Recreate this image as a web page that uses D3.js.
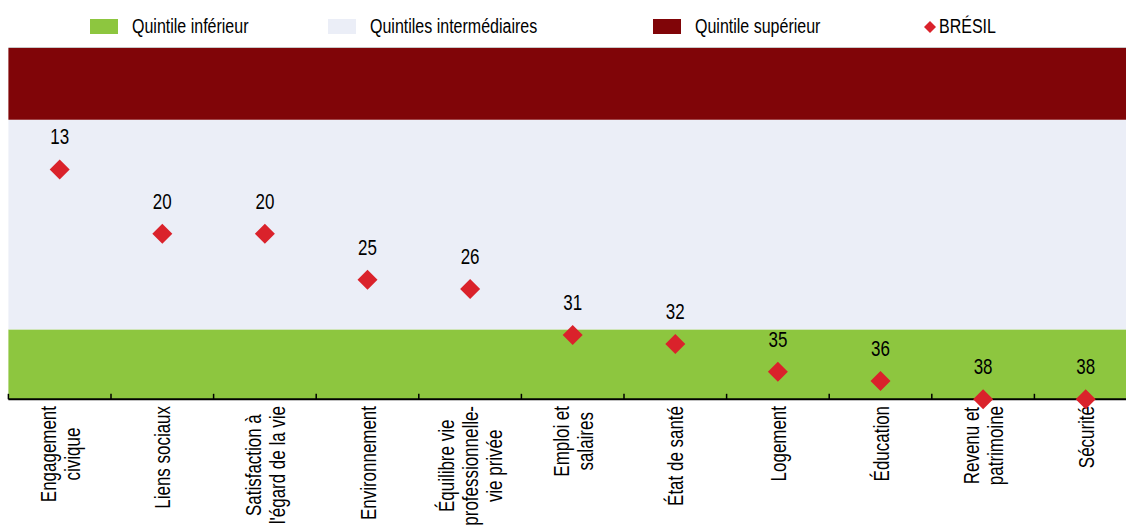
<!DOCTYPE html>
<html><head><meta charset="utf-8">
<script src="https://cdn.jsdelivr.net/npm/d3@7"></script>
<style>
body{margin:0;background:#fff;}
svg{display:block;font-family:"Liberation Sans Narrow","Arial Narrow","Liberation Sans",Arial,sans-serif;}
</style></head>
<body><svg id="c" width="1126" height="525"></svg>
<script>
const categories = [
  ["Engagement","civique"],
  ["Liens sociaux"],
  ["Satisfaction à","l'égard de la vie"],
  ["Environnement"],
  ["Équilibre vie","professionnelle-","vie privée"],
  ["Emploi et","salaires"],
  ["État de santé"],
  ["Logement"],
  ["Éducation"],
  ["Revenu et","patrimoine"],
  ["Sécurité"]
];
const brazilRanks = [13,20,20,25,26,31,32,35,36,38,38];
const nCountries = 38;
const quintileBands = [
  {name:"Quintile inférieur", from:30.4, to:38, color:"#8dc63f"},
  {name:"Quintiles intermédiaires", from:7.6, to:30.4, color:"#ebeef7"},
  {name:"Quintile supérieur", from:-0.2, to:7.6, color:"#800508"}
];
const seriesName = "BRÉSIL";

const svg = d3.select("#c");
const plot = {left:8.4, right:1137, top:48, bottom:399.3};
const NARROW = 0.8, fsLeg = 20, fs = 21.2;

const x = d3.scaleBand().domain(d3.range(categories.length)).range([plot.left, plot.right]).padding(0);
const y = d3.scaleLinear().domain([-0.2, nCountries]).range([plot.top, plot.bottom]);

function ntext(parent, tx, ty, str, anchor, size) {
  const g = parent.append("g").attr("transform", `translate(${tx},${ty}) scale(${NARROW},1)`);
  g.append("text").attr("text-anchor", anchor || "start").attr("font-size", size).attr("fill", "#000").text(str);
  return g;
}

// bands
svg.append("g").selectAll("rect").data(quintileBands).join("rect")
  .attr("x", plot.left).attr("width", plot.right - plot.left)
  .attr("y", d => y(d.from)).attr("height", d => y(d.to) - y(d.from))
  .attr("fill", d => d.color);
svg.append("line").attr("x1", plot.left).attr("x2", plot.right)
  .attr("y1", plot.top - 0.5).attr("y2", plot.top - 0.5)
  .attr("stroke", "#c8c8c8").attr("stroke-width", 1);

// axis
const axisG = svg.append("g").attr("transform", `translate(0,${plot.bottom})`);
axisG.append("line").attr("x1", plot.left).attr("x2", plot.right).attr("stroke", "#000").attr("stroke-width", 2);
const tickPos = d3.range(categories.length + 1).map(i => i < categories.length ? x(i) : x(categories.length-1) + x.bandwidth());
axisG.selectAll(".tk").data(tickPos).join("line").attr("class","tk")
  .attr("x1", d => d).attr("x2", d => d).attr("y1", 0).attr("y2", -5.5)
  .attr("stroke", "#000").attr("stroke-width", 1.5);

// category labels
const lh = 24, topY = 406;
categories.forEach((lines, i) => {
  const cx = x(i) + x.bandwidth()/2;
  const g = svg.append("g");
  const inner = g.append("g").attr("transform", `scale(${NARROW},1)`);
  const texts = lines.map((t, j) => inner.append("text")
    .attr("text-anchor", "middle").attr("font-size", fs).attr("fill", "#000")
    .attr("x", 0).attr("y", (j - (lines.length-1)/2) * lh).attr("dy", "0.38em").text(t));
  const maxW = d3.max(texts, t => t.node().getComputedTextLength()) * NARROW;
  g.attr("transform", `translate(${cx},${topY + maxW/2}) rotate(-90)`);
});

// points
const pts = svg.append("g");
pts.selectAll("path").data(brazilRanks).join("path")
  .attr("transform", (d, i) => `translate(${x(i) + x.bandwidth()/2},${y(d)})`)
  .attr("d", "M0,-10L10,0L0,10L-10,0Z")
  .attr("fill", "#da222b");
brazilRanks.forEach((d, i) => ntext(pts, x(i) + x.bandwidth()/2, y(d) - 25, d, "middle", fs));

// legend
const leg = svg.append("g");
const legItems = [
  {label: quintileBands[0].name, color: quintileBands[0].color, rx: 90, tx: 132},
  {label: quintileBands[1].name, color: quintileBands[1].color, rx: 328, tx: 370},
  {label: quintileBands[2].name, color: quintileBands[2].color, rx: 653, tx: 695}
];
legItems.forEach(it => {
  leg.append("rect").attr("x", it.rx).attr("y", 19).attr("width", 28).attr("height", 15).attr("fill", it.color);
  ntext(leg, it.tx, 33, it.label, "start", fsLeg);
});
leg.append("path").attr("transform", "translate(930,27)").attr("d", "M0,-6L6,0L0,6L-6,0Z").attr("fill", "#da222b");
ntext(leg, 939, 33, seriesName, "start", fsLeg);
</script></body></html>
